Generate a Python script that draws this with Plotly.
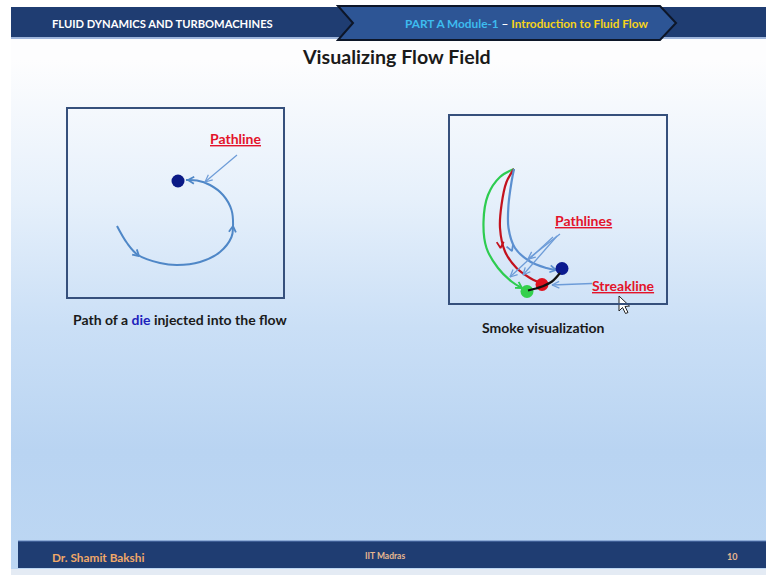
import plotly.graph_objects as go
import numpy as np

W, H = 766, 575

# ---------------- text content ----------------
header_left = "FLUID DYNAMICS AND TURBOMACHINES"
header_part = "PART A Module-1"
header_topic = "Introduction to Fluid Flow"
slide_title = "Visualizing Flow Field"
caption_left_parts = ["Path of a ", "die", " injected into the flow"]
caption_right = "Smoke visualization"
label_pathline = "Pathline"
label_pathlines = "Pathlines"
label_streakline = "Streakline"
footer_author = "Dr. Shamit Bakshi"
footer_inst = "IIT Madras"
footer_page = "10"

# ---------------- diagram geometry (slide pixel units) ----------------
# left panel: pathline of a dye particle
left_box_x = [67, 284]
left_box_y = [108, 298]
left_path_x = [117, 127, 138, 160, 177, 200, 220, 231.5, 233, 231.5, 223, 210, 197, 186]
left_path_y = [226, 243, 255, 263, 265, 262, 252, 237, 227, 210, 195, 185, 180.5, 180]
left_path_arrow_tips = [(139, 256), (233, 226), (188, 180)]
left_path_arrow_from = [(130, 248), (232, 236), (198, 180.5)]
left_dot = (178, 181)
left_pointer_from = (237, 155)
left_pointer_to = (205, 182)

# right panel: smoke visualization
right_box_x = [449, 667]
right_box_y = [115, 304]
green_x = [514, 500, 488, 483.5, 486.5, 498, 511.5, 521]
green_y = [169, 177, 195, 222, 248, 268, 281.5, 287.5]
red_x = [514, 506.5, 501.5, 500, 505, 516.5, 530, 537]
red_y = [169, 182, 205, 228, 251.5, 268, 278, 281.5]
blue_x = [514, 511.5, 508.5, 508.5, 515, 530, 546.5, 555.5]
blue_y = [169, 182, 205, 228, 248, 261.5, 268, 270]
curve_arrow_tips = [(522, 288), (500.5, 248), (512, 251), (556, 270)]
curve_arrow_from = [(512, 282), (500, 238), (508.5, 242), (546, 268)]
curve_arrow_colors = ["#2ecc50", "#c3121e", "#5b8fd0", "#5b8fd0"]
streak_x = [528, 536, 542, 552, 560]
streak_y = [290.5, 288.5, 286.5, 281.5, 273]
dot_blue = (562, 268.5)
dot_red = (542, 284.5)
dot_green = (527, 291.5)
pathlines_ptr_from = [(560, 234), (557, 236), (553, 237)]
pathlines_ptr_to = [(528, 259), (523, 275), (510, 277)]
streak_ptr_from = (592, 283.5)
streak_ptr_to = (552, 285)
cursor_x = [619, 619, 622.5, 625.5, 628, 625, 629.5, 619]
cursor_y = [296, 311, 307.5, 313.5, 312.5, 306.5, 306, 296]

# ---------------- colours ----------------
NAVY = "#1f3d72"
CHEV = "#2d5595"
BOXC = "#36507c"
CURVE = "#4f87c7"
PTR = "#6d9cd8"
RED_TXT = "#e3132a"
FONT = "Lato, Roboto, sans-serif"


def vhead(tip, frm, size=7, half_angle=28):
    tx, ty = tip
    fx, fy = frm
    ang = np.arctan2(fy - ty, fx - tx)
    a = np.radians(half_angle)
    p1 = (tx + size * np.cos(ang + a), ty + size * np.sin(ang + a))
    p2 = (tx + size * np.cos(ang - a), ty + size * np.sin(ang - a))
    return [p1[0], tx, p2[0], None], [p1[1], ty, p2[1], None]


fig = go.Figure()

# background gradient (slide)
fig.add_trace(go.Scatter(
    x=[11, W, W, 11, 11], y=[7, 7, H, H, 7], mode="lines", fill="toself",
    line=dict(width=0), hoverinfo="skip", showlegend=False,
    fillgradient=dict(type="vertical", start=575, stop=60,
                      colorscale=[[0, "#bdd7f3"], [0.24, "#b9d4f2"], [0.48, "#cadff6"],
                                  [0.73, "#e6f0fb"], [1, "#fdfdfe"]]),
))

# ---------- left panel ----------
fig.add_trace(go.Scatter(x=left_path_x, y=left_path_y, mode="lines",
                         line=dict(color=CURVE, width=2, shape="spline", smoothing=1.0),
                         hoverinfo="skip", showlegend=False))
ax, ay = [], []
for t, f in zip(left_path_arrow_tips, left_path_arrow_from):
    hx, hy = vhead(t, f, 7, 30)
    ax += hx
    ay += hy
fig.add_trace(go.Scatter(x=ax, y=ay, mode="lines", line=dict(color=CURVE, width=1.8),
                         hoverinfo="skip", showlegend=False))
# pointer
hx, hy = vhead(left_pointer_to, left_pointer_from, 8, 25)
fig.add_trace(go.Scatter(x=[left_pointer_from[0], left_pointer_to[0], None] + hx,
                         y=[left_pointer_from[1], left_pointer_to[1], None] + hy,
                         mode="lines", line=dict(color=PTR, width=1.2),
                         hoverinfo="skip", showlegend=False))
fig.add_trace(go.Scatter(x=[left_dot[0]], y=[left_dot[1]], mode="markers",
                         marker=dict(size=13, color="#0b1a86"),
                         hoverinfo="skip", showlegend=False))

# ---------- right panel ----------
for xs, ys, col, w in [(green_x, green_y, "#2ecc50", 2.2), (red_x, red_y, "#c3121e", 2.2),
                       (blue_x, blue_y, "#5b8fd0", 2.2)]:
    fig.add_trace(go.Scatter(x=xs, y=ys, mode="lines",
                             line=dict(color=col, width=w, shape="spline", smoothing=1.0),
                             hoverinfo="skip", showlegend=False))
for t, f, c in zip(curve_arrow_tips, curve_arrow_from, curve_arrow_colors):
    hx, hy = vhead(t, f, 7, 30)
    fig.add_trace(go.Scatter(x=hx, y=hy, mode="lines", line=dict(color=c, width=1.8),
                             hoverinfo="skip", showlegend=False))
# pointers to pathlines / streakline
px, py = [], []
for f, t in zip(pathlines_ptr_from, pathlines_ptr_to):
    px += [f[0], t[0], None]
    py += [f[1], t[1], None]
    hx, hy = vhead(t, f, 8, 25)
    px += hx
    py += hy
hx, hy = vhead(streak_ptr_to, streak_ptr_from, 8, 25)
px += [streak_ptr_from[0], streak_ptr_to[0], None] + hx
py += [streak_ptr_from[1], streak_ptr_to[1], None] + hy
fig.add_trace(go.Scatter(x=px, y=py, mode="lines", line=dict(color=PTR, width=1.3),
                         hoverinfo="skip", showlegend=False))
# dots
for (dx, dy), col in [(dot_blue, "#0b1a8f"), (dot_green, "#33d04c"), (dot_red, "#e0121e")]:
    fig.add_trace(go.Scatter(x=[dx], y=[dy], mode="markers",
                             marker=dict(size=13, color=col),
                             hoverinfo="skip", showlegend=False))
# streakline
fig.add_trace(go.Scatter(x=streak_x, y=streak_y, mode="lines",
                         line=dict(color="#111111", width=2.2, shape="spline"),
                         hoverinfo="skip", showlegend=False))
# cursor
fig.add_trace(go.Scatter(x=cursor_x, y=cursor_y, mode="lines", fill="toself",
                         fillcolor="white", line=dict(color="#222222", width=1),
                         hoverinfo="skip", showlegend=False))

shapes = []
# header bar
shapes.append(dict(type="rect", x0=11, x1=W, y0=7, y1=37, fillcolor=NAVY, line=dict(width=0)))
shapes.append(dict(type="line", x0=11, x1=W, y0=38, y1=38, line=dict(color="#9fb6dc", width=2)))
shapes.append(dict(type="path", path="M 338 6 L 660 6 L 676 23 L 660 40 L 338 40 L 353 23 Z",
                   fillcolor=CHEV, line=dict(color="#0d1628", width=2)))
# footer
shapes.append(dict(type="rect", x0=18, x1=W, y0=541, y1=568, fillcolor=NAVY, line=dict(width=0)))
shapes.append(dict(type="line", x0=18, x1=W, y0=541, y1=541, line=dict(color="#5d7fb8", width=1)))
shapes.append(dict(type="rect", x0=11, x1=W, y0=569, y1=H, fillcolor="#e4ebf4", line=dict(width=0)))
# boxes
shapes.append(dict(type="rect", x0=left_box_x[0], x1=left_box_x[1], y0=left_box_y[0], y1=left_box_y[1],
                   line=dict(color=BOXC, width=2)))
shapes.append(dict(type="rect", x0=right_box_x[0], x1=right_box_x[1], y0=right_box_y[0], y1=right_box_y[1],
                   line=dict(color=BOXC, width=2)))

ann = []


def txt(x, y, s, size, color, bold=True, xanchor="center"):
    ann.append(dict(x=x, y=y, text=(f"<b>{s}</b>" if bold else s), showarrow=False,
                    xanchor=xanchor, yanchor="middle",
                    font=dict(family=FONT, size=size, color=color)))


txt(50, 23, header_left, 11.2, "white", xanchor="left")
ann.append(dict(x=526, y=23, showarrow=False, xanchor="center", yanchor="middle",
                text=(f"<b><span style='color:#3dbcef'>{header_part}</span>"
                      f"<span style='color:#ffffff'> – </span>"
                      f"<span style='color:#f6d31a'>{header_topic}</span></b>"),
                font=dict(family=FONT, size=11.8)))
txt(396, 56, slide_title, 19.6, "#1a1a1a")
txt(235, 138, f"<u>{label_pathline}</u>", 14, RED_TXT)
txt(583.5, 220, f"<u>{label_pathlines}</u>", 14, RED_TXT)
txt(623, 285, f"<u>{label_streakline}</u>", 14, RED_TXT)
ann.append(dict(x=180, y=319, showarrow=False, xanchor="center", yanchor="middle",
                text=(f"<b>{caption_left_parts[0]}<span style='color:#1c22bb'>{caption_left_parts[1]}</span>"
                      f"{caption_left_parts[2]}</b>"),
                font=dict(family=FONT, size=14, color="#1a1a1a")))
txt(543, 327, caption_right, 14, "#1a1a1a")
txt(50, 557, footer_author, 11.8, "#f0a868", xanchor="left")
txt(385, 556, footer_inst, 8.5, "#e8b890")
txt(732, 556, footer_page, 9, "#e8b890")

fig.update_layout(
    width=W, height=H, margin=dict(l=0, r=0, t=0, b=0),
    paper_bgcolor="white", plot_bgcolor="white",
    xaxis=dict(range=[0, W], visible=False, fixedrange=True),
    yaxis=dict(range=[H, 0], visible=False, fixedrange=True),
    shapes=shapes, annotations=ann, showlegend=False,
)
fig.write_html("out.html", config={"displayModeBar": False},
               post_script="document.body.style.margin='0';document.body.style.overflow='hidden';")
